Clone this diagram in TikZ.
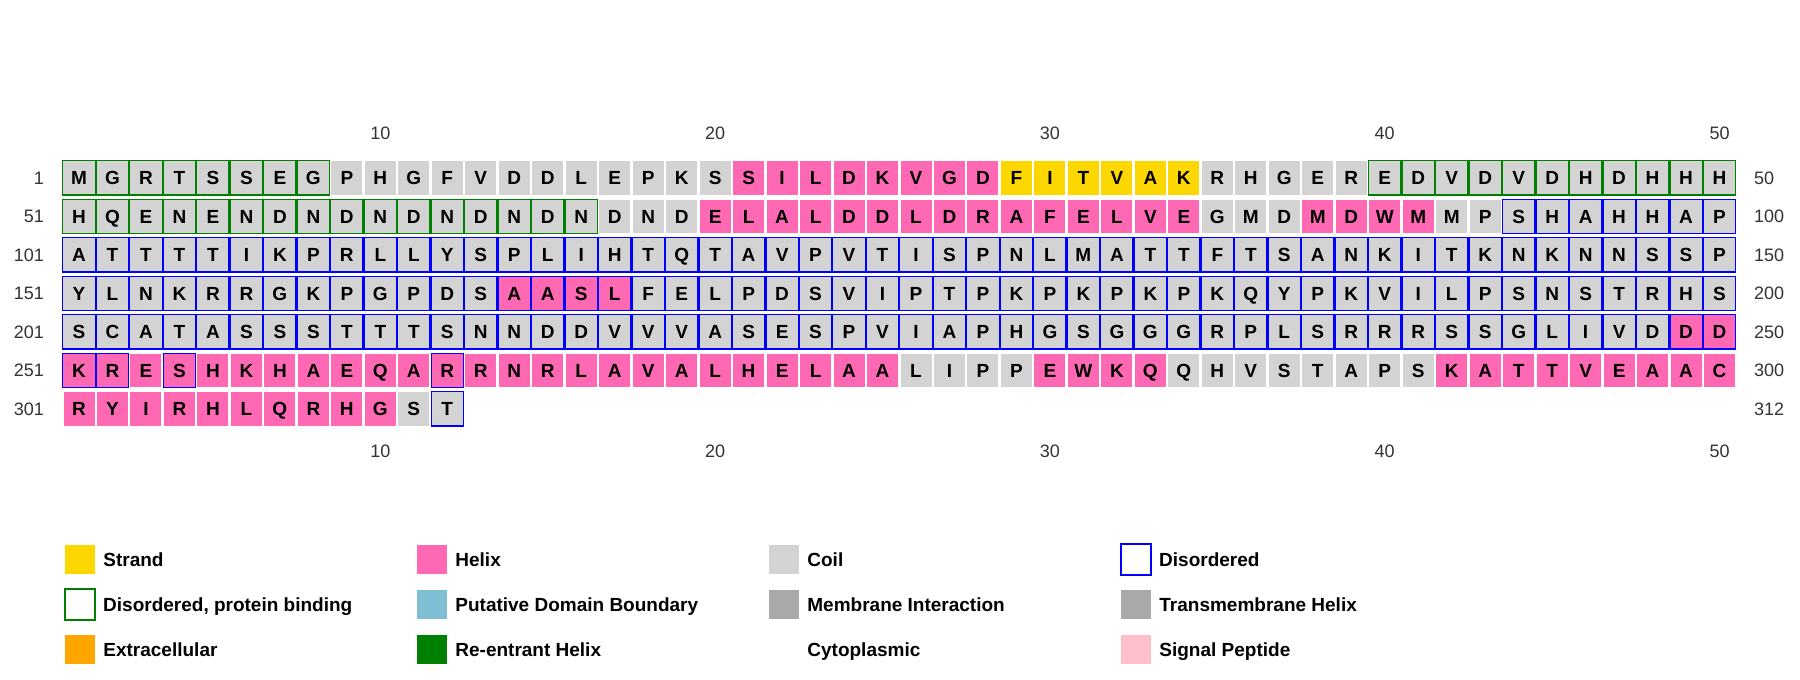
\documentclass[tikz,border=0pt]{standalone}
\usepackage{fontspec}
\setmainfont{Liberation Sans}
\usetikzlibrary{positioning}
\definecolor{coil}{RGB}{211,211,211}
\definecolor{helix}{RGB}{255,105,180}
\definecolor{strand}{RGB}{255,215,0}
\definecolor{dis}{RGB}{0,0,255}
\definecolor{bind}{RGB}{0,128,0}
\definecolor{domain}{RGB}{127,191,212}
\definecolor{membrane}{RGB}{169,169,169}
\definecolor{extra}{RGB}{255,165,0}
\definecolor{signal}{RGB}{255,192,203}
\definecolor{numgray}{RGB}{51,51,51}

% one run of residues: row, first column, fill, letters
\newcommand{\resrun}[4]{%
  \foreach \amino [count=\k from #2] in {#4}
    \node[res,fill=#3] (r#1c\k) at ({79+(\k-1)*33.48},{177.75+(#1-1)*38.5}) {\amino};}
% same, with a frame round every residue: row, first column, fill, frame, letters
\newcommand{\boxrun}[5]{%
  \foreach \amino [count=\k from #2] in {#5}
    \node[res,framed,fill=#3,draw=#4] (r#1c\k) at ({79+(\k-1)*33.48},{177.75+(#1-1)*38.5}) {\amino};}

\begin{document}
\begin{tikzpicture}[x=1pt,y=-1pt,
  res/.style={minimum width=31,minimum height=33.5,inner sep=0,
    font=\fontsize{19}{19}\selectfont\bfseries,text height=13.6,text depth=0},
  framed/.style={minimum width=32.3,minimum height=34.3,line width=1.2},
  seqnum/.style={inner sep=0,text=numgray,font=\fontsize{18}{18}\selectfont,
    text height=12.9,text depth=0},
  legbox/.style={minimum width=30,minimum height=29.5,inner sep=0},
  legline/.style={minimum width=30,minimum height=31,inner sep=0,line width=2,fill=white},
  legtext/.style={inner sep=0,font=\fontsize{19}{19}\selectfont\bfseries,
    text height=13.6,text depth=0}
]
  \useasboundingbox[fill=white] (0,0) rectangle (1800,680);

  % row 1
  \boxrun{1}{1}{coil}{bind}{M,G,R,T,S,S,E,G}
  \resrun{1}{9}{coil}{P,H,G,F,V,D,D,L,E,P,K,S}
  \resrun{1}{21}{helix}{S,I,L,D,K,V,G,D}
  \resrun{1}{29}{strand}{F,I,T,V,A,K}
  \resrun{1}{35}{coil}{R,H,G,E,R}
  \boxrun{1}{40}{coil}{bind}{E,D,V,D,V,D,H,D,H,H,H}
  % row 51
  \boxrun{2}{1}{coil}{bind}{H,Q,E,N,E,N,D,N,D,N,D,N,D,N,D,N}
  \resrun{2}{17}{coil}{D,N,D}
  \resrun{2}{20}{helix}{E,L,A,L,D,D,L,D,R,A,F,E,L,V,E}
  \resrun{2}{35}{coil}{G,M,D}
  \resrun{2}{38}{helix}{M,D,W,M}
  \resrun{2}{42}{coil}{M,P}
  \boxrun{2}{44}{coil}{dis}{S,H,A,H,H,A,P}
  % row 101
  \boxrun{3}{1}{coil}{dis}{A,T,T,T,T,I,K,P,R,L,L,Y,S,P,L,I,H,T,Q,T,A,V,P,V,T,I,S,P,N,L,M,A,T,T,F,T,S,A,N,K,I,T,K,N,K,N,N,S,S,P}
  % row 151
  \boxrun{4}{1}{coil}{dis}{Y,L,N,K,R,R,G,K,P,G,P,D,S}
  \boxrun{4}{14}{helix}{dis}{A,A,S,L}
  \boxrun{4}{18}{coil}{dis}{F,E,L,P,D,S,V,I,P,T,P,K,P,K,P,K,P,K,Q,Y,P,K,V,I,L,P,S,N,S,T,R,H,S}
  % row 201
  \boxrun{5}{1}{coil}{dis}{S,C,A,T,A,S,S,S,T,T,T,S,N,N,D,D,V,V,V,A,S,E,S,P,V,I,A,P,H,G,S,G,G,G,R,P,L,S,R,R,R,S,S,G,L,I,V,D}
  \boxrun{5}{49}{helix}{dis}{D,D}
  % row 251
  \boxrun{6}{1}{helix}{dis}{K,R}
  \resrun{6}{3}{helix}{E}
  \boxrun{6}{4}{helix}{dis}{S}
  \resrun{6}{5}{helix}{H,K,H,A,E,Q,A}
  \boxrun{6}{12}{helix}{dis}{R}
  \resrun{6}{13}{helix}{R,N,R,L,A,V,A,L,H,E,L,A,A}
  \resrun{6}{26}{coil}{L,I,P,P}
  \resrun{6}{30}{helix}{E,W,K,Q}
  \resrun{6}{34}{coil}{Q,H,V,S,T,A,P,S}
  \resrun{6}{42}{helix}{K,A,T,T,V,E,A,A,C}
  % row 301
  \resrun{7}{1}{helix}{R,Y,I,R,H,L,Q,R,H,G}
  \resrun{7}{11}{coil}{S}
  \boxrun{7}{12}{coil}{dis}{T}

  % numbering
  \foreach \lab [count=\r] in {1,51,101,151,201,251,301}
    \node[seqnum,anchor=east] (first\r) at (44,{177.75+(\r-1)*38.5}) {\lab};
  \foreach \lab [count=\r] in {50,100,150,200,250,300,312}
    \node[seqnum,anchor=west] (last\r) at (1754,{177.75+(\r-1)*38.5}) {\lab};
  \foreach \c in {10,20,30,40,50} {
    \node[seqnum] (top\c) at ({79+(\c-1)*33.48},133) {\c};
    \node[seqnum] (bot\c) at ({79+(\c-1)*33.48},451) {\c};
  }

  % legend
  \node[legbox,fill=strand] (kstrand) at (80,559.5) {};
  \node[legtext,right=8pt of kstrand] {Strand};
  \node[legbox,fill=helix] (khelix) at (432,559.5) {};
  \node[legtext,right=8pt of khelix] {Helix};
  \node[legbox,fill=coil] (kcoil) at (784,559.5) {};
  \node[legtext,right=8pt of kcoil] {Coil};
  \node[legline,draw=dis] (kdis) at (1136,559.5) {};
  \node[legtext,right=7pt of kdis] {Disordered};

  \node[legline,draw=bind] (kbind) at (80,604.5) {};
  \node[legtext,right=7pt of kbind] {Disordered, protein binding};
  \node[legbox,fill=domain] (kdomain) at (432,604.5) {};
  \node[legtext,right=8pt of kdomain] {Putative Domain Boundary};
  \node[legbox,fill=membrane] (kmemb) at (784,604.5) {};
  \node[legtext,right=8pt of kmemb] {Membrane Interaction};
  \node[legbox,fill=membrane] (ktm) at (1136,604.5) {};
  \node[legtext,right=8pt of ktm] {Transmembrane Helix};

  \node[legbox,fill=extra] (kextra) at (80,649.5) {};
  \node[legtext,right=8pt of kextra] {Extracellular};
  \node[legbox,fill=bind] (kreent) at (432,649.5) {};
  \node[legtext,right=8pt of kreent] {Re-entrant Helix};
  \node[legbox,fill=white] (kcyto) at (784,649.5) {};
  \node[legtext,right=8pt of kcyto] {Cytoplasmic};
  \node[legbox,fill=signal] (ksignal) at (1136,649.5) {};
  \node[legtext,right=8pt of ksignal] {Signal Peptide};
\end{tikzpicture}
\end{document}
